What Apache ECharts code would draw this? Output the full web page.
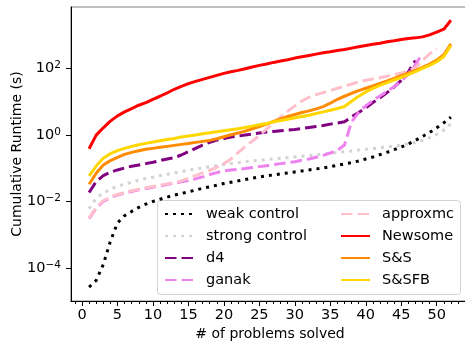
<!DOCTYPE html>
<html>
<head>
<meta charset="utf-8">
<script src="https://cdn.jsdelivr.net/npm/echarts@6/dist/echarts.min.js"></script>
<style>
html, body { margin: 0; padding: 0; background: #fff; }
#chart { width: 465px; height: 341px; }
</style>
</head>
<body>
<div id="chart"></div>
<script>
// cumulative runtime (s) after n problems solved, n = 1, 2, 3, ...
var weakControl = [0.0000263, 0.0000417, 0.000126, 0.000631, 0.00224, 0.00372, 0.00501, 0.00661, 0.00832, 0.0100,
  0.0117, 0.0135, 0.0155, 0.0174, 0.0195, 0.0219, 0.0251, 0.0275, 0.0309, 0.0347,
  0.0380, 0.0417, 0.0457, 0.0501, 0.0550, 0.0589, 0.0631, 0.0676, 0.0724, 0.0776,
  0.0832, 0.0891, 0.0955, 0.102, 0.112, 0.123, 0.135, 0.148, 0.166, 0.191,
  0.219, 0.257, 0.302, 0.363, 0.437, 0.537, 0.692, 0.912, 1.20, 1.66, 2.34, 3.47];
var strongControl = [0.00603, 0.0126, 0.0178, 0.0234, 0.0288, 0.0331, 0.0380, 0.0437, 0.0490, 0.0537,
  0.0603, 0.0661, 0.0724, 0.0794, 0.0871, 0.0955, 0.102, 0.112, 0.120, 0.129,
  0.138, 0.148, 0.158, 0.166, 0.174, 0.182, 0.191, 0.200, 0.209, 0.219,
  0.229, 0.240, 0.251, 0.269, 0.282, 0.302, 0.316, 0.331, 0.355, 0.372,
  0.389, 0.417, 0.437, 0.468, 0.501, 0.550, 0.603, 0.692, 0.832, 1.05, 1.41, 2.19];
var d4 = [0.0186, 0.0398, 0.0603, 0.0759, 0.0891, 0.102, 0.115, 0.126, 0.138, 0.151,
  0.170, 0.191, 0.209, 0.251, 0.316, 0.398, 0.501, 0.603, 0.708, 0.794,
  0.871, 0.933, 1.00, 1.07, 1.15, 1.23, 1.29, 1.35, 1.41, 1.48,
  1.58, 1.70, 1.82, 1.95, 2.14, 2.29, 2.51, 3.55, 4.79, 6.61,
  9.55, 13.2, 19.1, 28.2, 44.7, 79.4, 178];
var ganak = [0.00302, 0.00631, 0.0100, 0.0129, 0.0155, 0.0178, 0.0200, 0.0224, 0.0245, 0.0269,
  0.0295, 0.0324, 0.0355, 0.0389, 0.0427, 0.0479, 0.0550, 0.0646, 0.0741, 0.0832,
  0.0891, 0.0933, 0.0977, 0.105, 0.112, 0.120, 0.129, 0.138, 0.148, 0.158,
  0.174, 0.191, 0.214, 0.245, 0.288, 0.347, 0.501, 2.51, 4.79, 7.59,
  11.0, 15.1, 20.9, 28.8, 41.7, 70.8, 132, 295];
var approxmc = [0.00316, 0.00661, 0.0105, 0.0135, 0.0162, 0.0186, 0.0209, 0.0234, 0.0257, 0.0282,
  0.0309, 0.0339, 0.0372, 0.0417, 0.0501, 0.0603, 0.0724, 0.0871, 0.107, 0.138,
  0.191, 0.295, 0.447, 0.661, 0.977, 1.51, 2.34, 3.55, 5.25, 7.59,
  10.7, 13.8, 16.6, 19.1, 21.9, 25.7, 29.5, 34.7, 39.8, 44.7,
  49.0, 53.7, 58.9, 66.1, 74.1, 85.1, 107, 178, 282, 398];
var newsome = [0.389, 1.00, 1.66, 2.63, 3.80, 5.01, 6.31, 7.94, 9.55, 12.0,
  14.8, 18.6, 24.0, 29.5, 35.5, 41.7, 47.9, 55.0, 63.1, 72.4,
  81.3, 89.1, 100, 112, 126, 138, 155, 170, 186, 209,
  229, 251, 275, 302, 324, 355, 380, 417, 457, 501,
  550, 589, 646, 692, 759, 813, 851, 912, 1050, 1260, 1550, 2880];
var sAndS = [0.0331, 0.0708, 0.126, 0.170, 0.214, 0.263, 0.302, 0.339, 0.372, 0.398,
  0.427, 0.457, 0.490, 0.525, 0.562, 0.603, 0.646, 0.692, 0.776, 0.891,
  1.02, 1.15, 1.32, 1.55, 1.82, 2.14, 2.57, 3.09, 3.63, 4.17,
  4.79, 5.37, 6.17, 7.24, 9.12, 12.0, 14.8, 18.2, 21.9, 25.7,
  30.2, 36.3, 42.7, 51.3, 61.7, 74.1, 89.1, 110, 138, 182, 263, 562];
var sAndSFB = [0.0589, 0.117, 0.200, 0.275, 0.339, 0.398, 0.457, 0.513, 0.562, 0.617,
  0.676, 0.741, 0.794, 0.871, 0.933, 1.00, 1.10, 1.17, 1.26, 1.35,
  1.45, 1.55, 1.70, 1.86, 2.04, 2.24, 2.51, 2.75, 3.02, 3.31,
  3.63, 3.98, 4.47, 5.01, 5.62, 6.31, 7.24, 10.5, 14.8, 20.0,
  25.7, 31.6, 38.0, 45.7, 55.0, 66.1, 81.3, 102, 126, 162, 234, 501];

var xTicks = [0, 5, 10, 15, 20, 25, 30, 35, 40, 45, 50];
var yTicks = [1e-4, 1e-2, 1, 100];

var FONT = 'DejaVu Sans';
var DOT = [3, 5];
var DASH = [11.5, 5];

function toPoints(arr) {
  var out = [];
  for (var i = 0; i < arr.length; i++) out.push([i + 1, arr[i]]);
  return out;
}

function line(name, data, color, dash) {
  return {
    name: name,
    type: 'line',
    data: toPoints(data),
    symbol: 'none',
    lineStyle: { color: color, width: 3, type: dash || 'solid', cap: 'butt', join: 'round' },
    itemStyle: { color: color },
    silent: true
  };
}

var myChart = echarts.init(document.getElementById('chart'));
var legendBase = {
  orient: 'vertical',
  top: 203,
  padding: 0,
  itemGap: 0,
  itemWidth: 29,
  itemHeight: 14,
  selectedMode: false,
  itemStyle: { opacity: 0 },
  textStyle: { fontFamily: FONT, fontSize: 14.5, color: '#000', lineHeight: 22, padding: [0, 0, 0, 7] }
};

var option = {
  animation: false,
  backgroundColor: '#fff',
  grid: {
    left: 71, right: -4, top: 7, bottom: 40,
    outerBoundsMode: 'none', containLabel: false,
    show: true, borderColor: '#808080', borderWidth: 1.2
  },
  graphic: [{
    type: 'rect', left: 157, top: 200, z: 3,
    shape: { width: 303, height: 94, r: 3 },
    style: { fill: 'rgba(255,255,255,0.8)', stroke: '#d3d3d3', lineWidth: 1 }
  }],
  legend: [
    echarts.util.merge({ left: 164, data: ['weak control', 'strong control', 'd4', 'ganak'] }, legendBase),
    echarts.util.merge({ left: 340, data: ['approxmc', 'Newsome', 'S&S', 'S&SFB'] }, legendBase)
  ],
  xAxis: {
    type: 'value',
    min: -1.55,
    max: 54.55,
    splitNumber: 10,
    name: '# of problems solved',
    nameLocation: 'middle',
    nameGap: 26,
    nameMoveOverlap: false,
    nameTextStyle: { fontFamily: FONT, fontSize: 14, color: '#000' },
    axisLine: { onZero: false, lineStyle: { color: '#000', width: 1 } },
    axisTick: { length: 5, customValues: xTicks, lineStyle: { color: '#000' } },
    minorTick: { show: true, splitNumber: 5, length: 3, lineStyle: { color: '#000' } },
    axisLabel: { customValues: xTicks, margin: 7, fontFamily: FONT, fontSize: 14.5, color: '#000' },
    splitLine: { show: false }
  },
  yAxis: {
    type: 'log',
    logBase: 10,
    min: 1e-5,
    max: 7244,
    name: 'Cumulative Runtime (s)',
    nameLocation: 'middle',
    nameGap: 47,
    nameMoveOverlap: false,
    nameTextStyle: { fontFamily: FONT, fontSize: 14, color: '#000' },
    axisLine: { show: true, onZero: false, lineStyle: { color: '#000', width: 1 } },
    axisTick: { show: true, length: 5, customValues: yTicks, lineStyle: { color: '#000' } },
    axisLabel: {
      customValues: yTicks,
      margin: 10,
      fontFamily: FONT,
      color: '#000',
      formatter: function(v) {
        var e = Math.round(Math.log(v) / Math.LN10);
        var s = e < 0 ? '\u2212' + (-e) : '' + e;
        return '{b|10}{s|' + s + '}';
      },
      rich: {
        b: { fontFamily: FONT, fontSize: 14.5, lineHeight: 17, color: '#000' },
        s: { fontFamily: FONT, fontSize: 10.5, lineHeight: 11, verticalAlign: 'top', color: '#000' }
      }
    },
    splitLine: { show: false }
  },
  series: [
    line('weak control', weakControl, '#000000', DOT),
    line('strong control', strongControl, '#d3d3d3', DOT),
    line('d4', d4, '#800080', DASH),
    line('ganak', ganak, '#ee82ee', DASH),
    line('approxmc', approxmc, '#ffc0cb', DASH),
    line('Newsome', newsome, '#ff0000'),
    line('S&S', sAndS, '#ff8c00'),
    line('S&SFB', sAndSFB, '#ffd700')
  ]
};
myChart.setOption(option);
</script>
</body>
</html>
